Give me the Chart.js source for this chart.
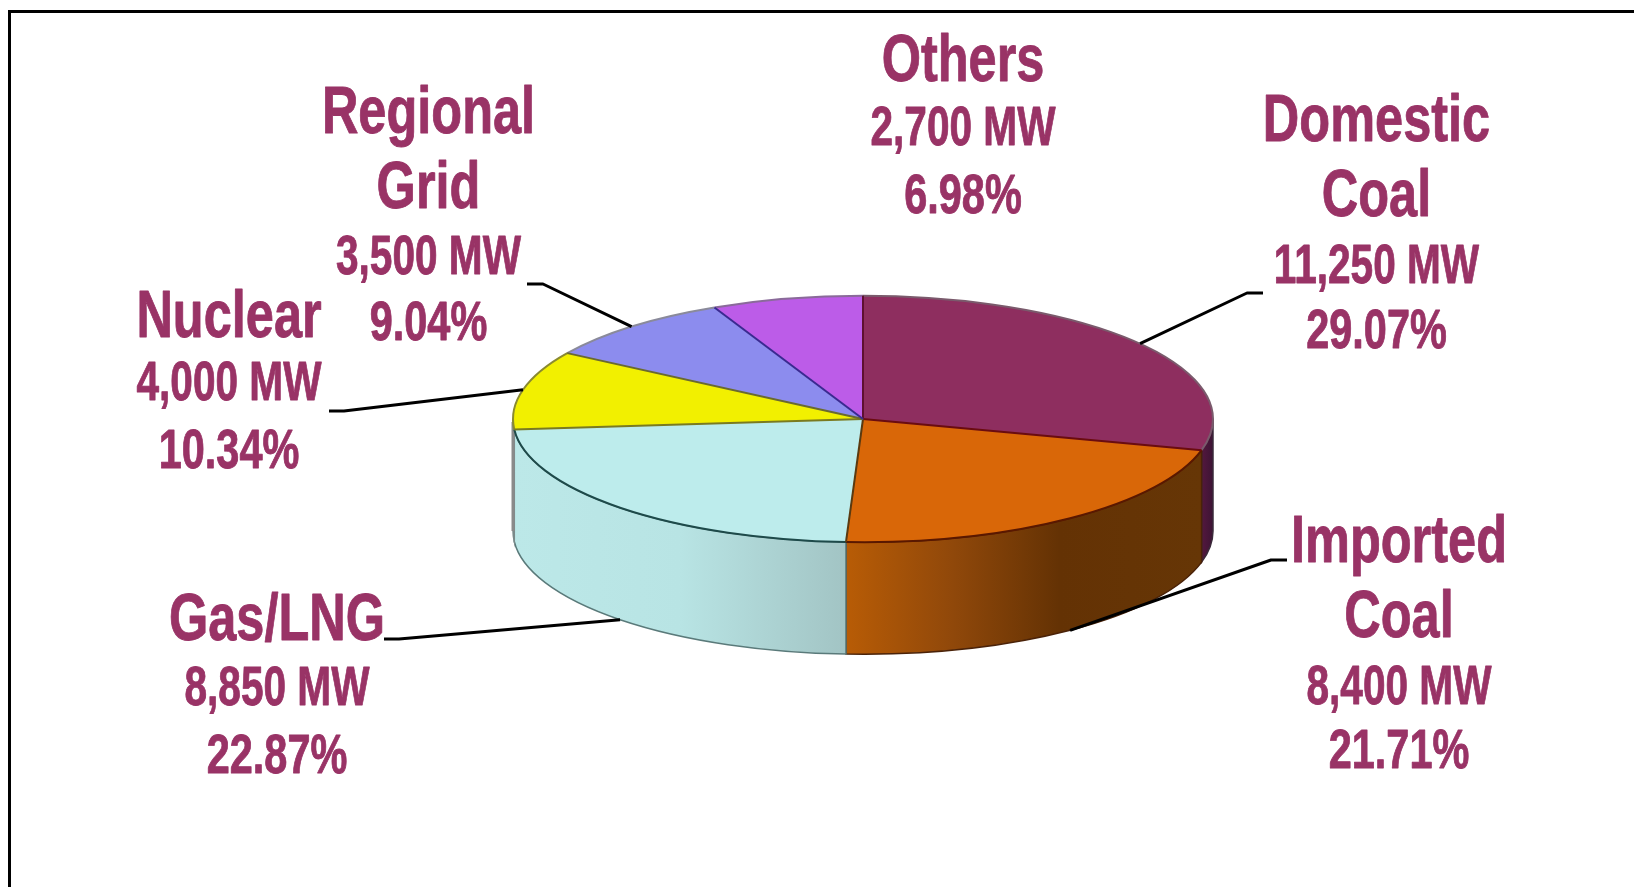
<!DOCTYPE html>
<html>
<head>
<meta charset="utf-8">
<title>Generation mix</title>
<script src="https://cdn.jsdelivr.net/npm/chart.js@4/dist/chart.umd.min.js"></script>
<style>
  html, body { margin: 0; padding: 0; background: #fff; overflow: hidden; }
  canvas { display: block; }
</style>
</head>
<body>
<canvas id="pie" width="1634" height="887"></canvas>
<script>
const categories = ["Domestic Coal", "Imported Coal", "Gas/LNG", "Nuclear", "Regional Grid", "Others"];
const capacityMw = [11250, 8400, 8850, 4000, 3500, 2700];
const shareLabels = ["29.07%", "21.71%", "22.87%", "10.34%", "9.04%", "6.98%"];
const nameLines = [["Domestic", "Coal"], ["Imported", "Coal"], ["Gas/LNG"], ["Nuclear"], ["Regional", "Grid"], ["Others"]];

const sliceColors = ["#8e2e5f", "#d96708", "#bdecec", "#f2f000", "#8c8cee", "#bc5ce8"];
// dark line along the start edge of each slice, and along its rim
const edgeColors = ["#5e1030", "#6a0c10", "#5a3a10", "#7a7a20", "#6a6a30", "#3a2a90"];
const rimColors = ["#7a5a6c", "#5a1800", "#1e4a4a", "#8a8a30", "#8a8a9a", "#8a6a9a"];
const wallEdges = ["#3a2a3a", "#4a2208", "#5a7a7a", "#7a8a8a", "#888888", "#888888"];
// side wall shading, left to right across the pie
const wallStops = [
  [[0, "#54183e"], [1, "#3c1434"]],
  [[0, "#b85c06"], [0.3, "#90480a"], [0.6, "#643204"], [1, "#663606"]],
  [[0, "#bce8e8"], [0.5, "#b8e4e4"], [1, "#a2c4c4"]],
  [[0, "#bce8e8"], [1, "#bce8e8"]],
  [[0, "#888888"], [1, "#888888"]],
  [[0, "#888888"], [1, "#888888"]]
];

// label block: centre x, baselines, leader [end, elbow]
const labelCentres = [1376.5, 1399, 277, 229, 428.5, 963];
const labelBaselines = [
  [141, 216, 283, 348],
  [562, 637, 704, 768],
  [640, 705, 773],
  [337, 400, 468],
  [133, 208, 274, 340],
  [81, 145, 213]
];
const leaderEnds = [[1263, 293], [1287, 560], [384, 639], [329, 411], [527, 284], null];
const leaderElbows = [[1247, 293], [1271, 560], [399, 639], [344, 411], [543, 284], null];

const squash = 0.352;
const wallDepth = 112;
const textColor = "#993366";

function arcsOf(chart) {
  return chart.getDatasetMeta(0).data.map(a =>
    a.getProps(["x", "y", "startAngle", "endAngle", "outerRadius"], true));
}

const pie3d = {
  id: "pie3d",
  beforeDraw(chart) {
    const ctx = chart.ctx;
    ctx.save();
    ctx.fillStyle = "#fff";
    ctx.fillRect(0, 0, chart.width, chart.height);
    ctx.strokeStyle = "#000";
    ctx.lineWidth = 3;
    ctx.beginPath();
    ctx.moveTo(9.5, chart.height + 5);
    ctx.lineTo(9.5, 11.5);
    ctx.lineTo(chart.width + 5, 11.5);
    ctx.stroke();
    ctx.restore();
  },
  beforeDatasetsDraw(chart) {
    const ctx = chart.ctx;
    const arcs = arcsOf(chart);
    const { x: cx, y: cy, outerRadius: rx } = arcs[0];
    const ry = rx * squash;
    arcs.forEach((arc, i) => {
      const a0 = Math.max(arc.startAngle, 0);
      const a1 = Math.min(arc.endAngle, Math.PI);
      if (a1 <= a0) return;
      const grad = ctx.createLinearGradient(cx + rx * Math.cos(a1), 0, cx + rx * Math.cos(a0), 0);
      wallStops[i].forEach(s => grad.addColorStop(s[0], s[1]));
      ctx.beginPath();
      ctx.ellipse(cx, cy, rx, ry, 0, a0, a1);
      ctx.ellipse(cx, cy + wallDepth, rx, ry, 0, a1, a0, true);
      ctx.closePath();
      ctx.fillStyle = grad;
      ctx.fill();
      ctx.strokeStyle = wallEdges[i];
      ctx.lineWidth = 1.5;
      ctx.stroke();
    });
    // grey left silhouette of the wall
    ctx.strokeStyle = "#8a8a8a";
    ctx.lineWidth = 3;
    ctx.beginPath();
    ctx.moveTo(cx - rx, cy + 3);
    ctx.lineTo(cx - rx, cy + wallDepth);
    ctx.stroke();
    // flatten the disc for the library's own arcs
    ctx.save();
    ctx.translate(cx, cy);
    ctx.scale(1, squash);
    ctx.translate(-cx, -cy);
  },
  afterDatasetsDraw(chart) {
    const ctx = chart.ctx;
    ctx.restore();
    const arcs = arcsOf(chart);
    const { x: cx, y: cy, outerRadius: rx } = arcs[0];
    const ry = rx * squash;

    // slice outlines, unsquashed so they keep an even width
    ctx.save();
    ctx.lineWidth = 2;
    arcs.forEach((arc, i) => {
      ctx.strokeStyle = rimColors[i];
      ctx.beginPath();
      ctx.ellipse(cx, cy, rx, ry, 0, arc.startAngle, arc.endAngle);
      ctx.stroke();
    });
    arcs.forEach((arc, i) => {
      ctx.strokeStyle = edgeColors[i];
      ctx.beginPath();
      ctx.moveTo(cx, cy);
      ctx.lineTo(cx + rx * Math.cos(arc.startAngle), cy + ry * Math.sin(arc.startAngle));
      ctx.stroke();
    });
    ctx.restore();

    ctx.save();
    ctx.strokeStyle = "#000";
    ctx.lineWidth = 3;
    ctx.lineJoin = "round";
    arcs.forEach((arc, i) => {
      if (!leaderEnds[i]) return;
      const mid = (arc.startAngle + arc.endAngle) / 2;
      const px = cx + rx * Math.cos(mid);
      let py = cy + ry * Math.sin(mid);
      if (Math.sin(mid) > 0) py += wallDepth;
      ctx.beginPath();
      ctx.moveTo(px, py);
      ctx.lineTo(leaderElbows[i][0], leaderElbows[i][1]);
      ctx.lineTo(leaderEnds[i][0], leaderEnds[i][1]);
      ctx.stroke();
    });
    ctx.restore();

    ctx.save();
    ctx.fillStyle = textColor;
    ctx.strokeStyle = textColor;
    ctx.lineWidth = 0.9;
    ctx.lineJoin = "round";
    ctx.textAlign = "center";
    ctx.textBaseline = "alphabetic";
    categories.forEach((_, i) => {
      const names = nameLines[i];
      const mwLine = capacityMw[i].toLocaleString("en-US") + " MW";
      names.concat([mwLine, shareLabels[i]]).forEach((text, k) => {
        const isName = k < names.length;
        const widthScale = isName ? 0.765 : (text === mwLine ? 0.725 : 0.74);
        ctx.save();
        ctx.translate(labelCentres[i], labelBaselines[i][k]);
        ctx.scale(widthScale, 1);
        ctx.font = "bold " + (isName ? 66 : 56) + "px 'Liberation Sans', Arial, sans-serif";
        ctx.fillText(text, 0, 0);
        ctx.strokeText(text, 0, 0);
        ctx.restore();
      });
    });
    ctx.restore();
  }
};

new Chart(document.getElementById("pie"), {
  type: "pie",
  data: {
    labels: categories,
    datasets: [{
      data: capacityMw,
      backgroundColor: sliceColors,
      borderWidth: 0
    }]
  },
  options: {
    responsive: false,
    animation: false,
    devicePixelRatio: 1,
    layout: { padding: { left: 513, right: 421, top: 69, bottom: 118 } },
    plugins: { legend: { display: false }, tooltip: { enabled: false } }
  },
  plugins: [pie3d]
});
</script>
</body>
</html>
